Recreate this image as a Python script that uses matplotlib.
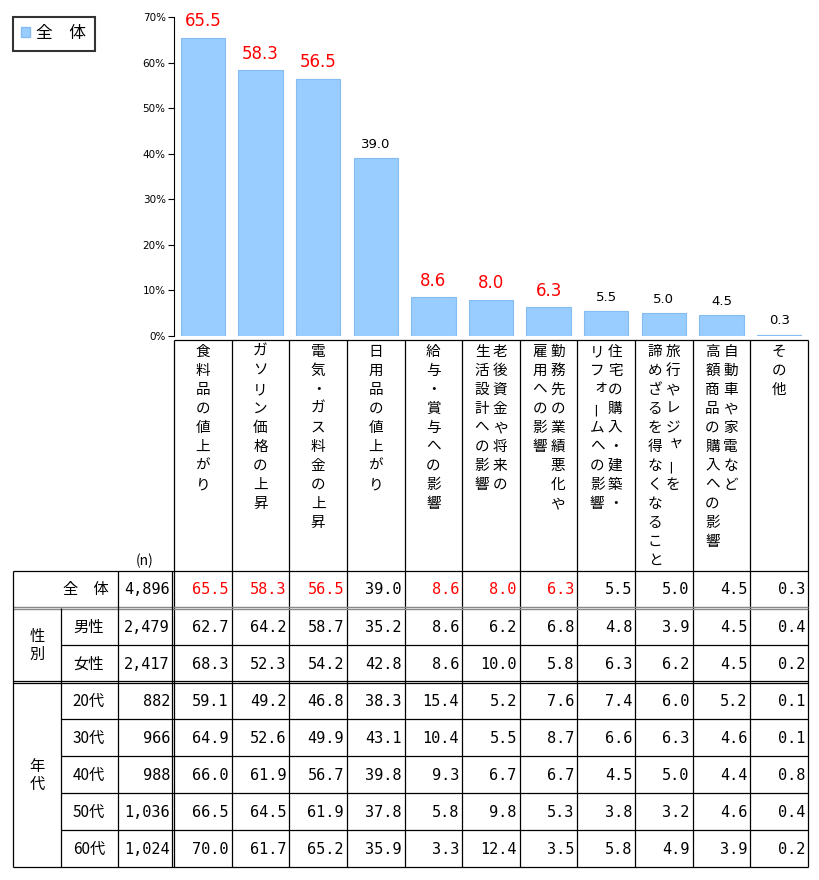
import numpy as np
import matplotlib.pyplot as plt
from matplotlib.patches import Patch

plt.rcParams['font.family'] = ['Noto Sans CJK JP', 'DejaVu Sans']

# 項目 (縦書き: 先頭の行が右側)
categories = [
    ['食料品の値上がり'],
    ['ガソリン価格の上昇'],
    ['電気・ガス料金の上昇'],
    ['日用品の値上がり'],
    ['給与・賞与への影響'],
    ['老後資金や将来の', '生活設計への影響'],
    ['勤務先の業績悪化や', '雇用への影響'],
    ['住宅の購入・建築・', 'リフォームへの影響'],
    ['旅行やレジャーを', '諦めざるを得なくなること'],
    ['自動車や家電など', '高額商品の購入への影響'],
    ['その他'],
]
total = [65.5, 58.3, 56.5, 39.0, 8.6, 8.0, 6.3, 5.5, 5.0, 4.5, 0.3]
highlight = [True, True, True, False, True, True, True, False, False, False, False]
total_n = '4,896'

groups = [('性別', 2), ('年代', 5)]
row_labels = ['男性', '女性', '20代', '30代', '40代', '50代', '60代']
row_n = ['2,479', '2,417', '882', '966', '988', '1,036', '1,024']
rows = [
    [62.7, 64.2, 58.7, 35.2, 8.6, 6.2, 6.8, 4.8, 3.9, 4.5, 0.4],
    [68.3, 52.3, 54.2, 42.8, 8.6, 10.0, 5.8, 6.3, 6.2, 4.5, 0.2],
    [59.1, 49.2, 46.8, 38.3, 15.4, 5.2, 7.6, 7.4, 6.0, 5.2, 0.1],
    [64.9, 52.6, 49.9, 43.1, 10.4, 5.5, 8.7, 6.6, 6.3, 4.6, 0.1],
    [66.0, 61.9, 56.7, 39.8, 9.3, 6.7, 6.7, 4.5, 5.0, 4.4, 0.8],
    [66.5, 64.5, 61.9, 37.8, 5.8, 9.8, 5.3, 3.8, 3.2, 4.6, 0.4],
    [70.0, 61.7, 65.2, 35.9, 3.3, 12.4, 3.5, 5.8, 4.9, 3.9, 0.2],
]

W, H = 820, 880
x0, x1 = 174, 808          # グラフ・表の列の範囲 (px)
y_top, y_zero = 17, 336    # 70% と 0% の位置 (px)
ncat = len(categories)
colw = (x1 - x0) / ncat

fig = plt.figure(figsize=(W / 100, H / 100), dpi=100)

# 表などを描く下地 (ピクセル座標)
bg = fig.add_axes([0, 0, 1, 1])
bg.set_xlim(0, W)
bg.set_ylim(H, 0)
bg.axis('off')

# 棒グラフ
ax = fig.add_axes([x0 / W, 1 - y_zero / H, (x1 - x0) / W, (y_zero - y_top) / H])
ax.patch.set_alpha(0)
xs = np.arange(ncat)
bars = ax.bar(xs, total, width=0.77, color='#99CCFF', edgecolor='#85BDF2', linewidth=0.8)
ax.set_xlim(-0.5, ncat - 0.5)
ax.set_ylim(0, 70)
ax.set_yticks(np.arange(0, 71, 10))
ax.set_yticklabels([f'{t}%' for t in range(0, 71, 10)], fontsize=7.5, family='DejaVu Sans')
ax.tick_params(axis='y', direction='out', length=4, width=0.8, pad=2)
ax.set_xticks([])
for s in ['top', 'right', 'bottom']:
    ax.spines[s].set_visible(False)
ax.spines['left'].set_linewidth(0.8)

for i, v in enumerate(total):
    if highlight[i]:
        ax.text(i, v + 1.6, f'{v:.1f}', ha='center', va='bottom', color='red',
                fontsize=12, family='DejaVu Sans')
    else:
        ax.text(i, v + 1.6, f'{v:.1f}', ha='center', va='bottom', color='black',
                fontsize=9.5, family='DejaVu Sans')

# 凡例
leg = fig.legend(handles=[Patch(facecolor='#99CCFF', edgecolor='#85BDF2')], labels=['全　体'],
                 loc='upper left', bbox_to_anchor=(13 / W, 1 - 17 / H), fontsize=12,
                 fancybox=False, edgecolor='black', handlelength=0.55, handleheight=0.55,
                 handletextpad=0.35, borderpad=0.5, borderaxespad=0)
leg.get_frame().set_linewidth(1.5)


# 縦書きラベル
def vtext(x, y, s, step=19, **kw):
    for k, ch in enumerate(s):
        dx, dy, rot = 0, 0, 0
        if ch == 'ー':
            rot = 90
        if ch in 'ャョォッ':
            dx, dy = 3, -3
        bg.text(x + dx, y + k * step + dy, ch, ha='center', va='center', rotation=rot, **kw)


label_top = 340
table_top = 571
for i, lines in enumerate(categories):
    cx = x0 + (i + 0.5) * colw
    if len(lines) == 1:
        vtext(cx, 352, lines[0], fontsize=10.5)
    else:
        vtext(cx + 9, 352, lines[0], fontsize=10.5)
        vtext(cx - 9, 352, lines[1], fontsize=10.5)

lc = 'black'
lw = 0.9
col_edges = [x0 + i * colw for i in range(ncat + 1)]
bg.hlines(label_top, x0, x1, color=lc, lw=lw)
for xe in col_edges:
    bg.vlines(xe, label_top, 867, color=lc, lw=lw)

# 表
row_h = 37
row_edges = [table_top + row_h * k for k in range(len(rows) + 2)]
left, c1, c2 = 13, 61, 118
bg.text(145, 561, '(n)', ha='center', va='center', fontsize=10)

bg.hlines(row_edges[0], left, x1, color=lc, lw=lw)
bg.hlines(row_edges[-1], left, x1, color=lc, lw=lw)
bg.hlines(row_edges[1] - 0.5, left, x1, color='#888888', lw=1.0)
bg.hlines(row_edges[1] + 1.2, left, x1, color='#888888', lw=1.0)
bg.hlines(row_edges[3] - 1, left, x1, color=lc, lw=lw)
bg.hlines(row_edges[3] + 1.2, left, x1, color=lc, lw=lw)
for k in [2, 4, 5, 6, 7]:
    bg.hlines(row_edges[k], c1, x1, color=lc, lw=lw)
bg.vlines(left, row_edges[0], row_edges[-1], color=lc, lw=lw)
bg.vlines(c1, row_edges[1], row_edges[-1], color=lc, lw=lw)
bg.vlines(c2, row_edges[0], row_edges[-1], color=lc, lw=lw)
bg.vlines(x0 - 2, row_edges[0], row_edges[-1], color=lc, lw=lw)

num_font = dict(family='DejaVu Sans Mono', fontsize=11)

# 全体の行
yc = (row_edges[0] + row_edges[1]) / 2
bg.text(86, yc, '全　体', ha='center', va='center', fontsize=11)
bg.text(c2 + 52, yc, total_n, ha='right', va='center', **num_font)
for i, v in enumerate(total):
    bg.text(col_edges[i + 1] - 3, yc, f'{v:.1f}', ha='right', va='center',
            color='red' if highlight[i] else 'black', **num_font)

# 属性別の行
r = 0
for g, cnt in groups:
    top = row_edges[1 + r] + (2 if r > 0 else 1)
    bot = row_edges[1 + r + cnt]
    bg.text((left + c1) / 2, (top + bot) / 2, '\n'.join(g), ha='center', va='center',
            fontsize=11, linespacing=1.0)
    r += cnt

for k, (lab, n, vals) in enumerate(zip(row_labels, row_n, rows)):
    yc = (row_edges[k + 1] + row_edges[k + 2]) / 2 + 1
    bg.text(89, yc, lab, ha='center', va='center', fontsize=11)
    bg.text(c2 + 52, yc, n, ha='right', va='center', **num_font)
    for i, v in enumerate(vals):
        bg.text(col_edges[i + 1] - 3, yc, f'{v:.1f}', ha='right', va='center', **num_font)

fig.savefig('out.png', dpi=100)
